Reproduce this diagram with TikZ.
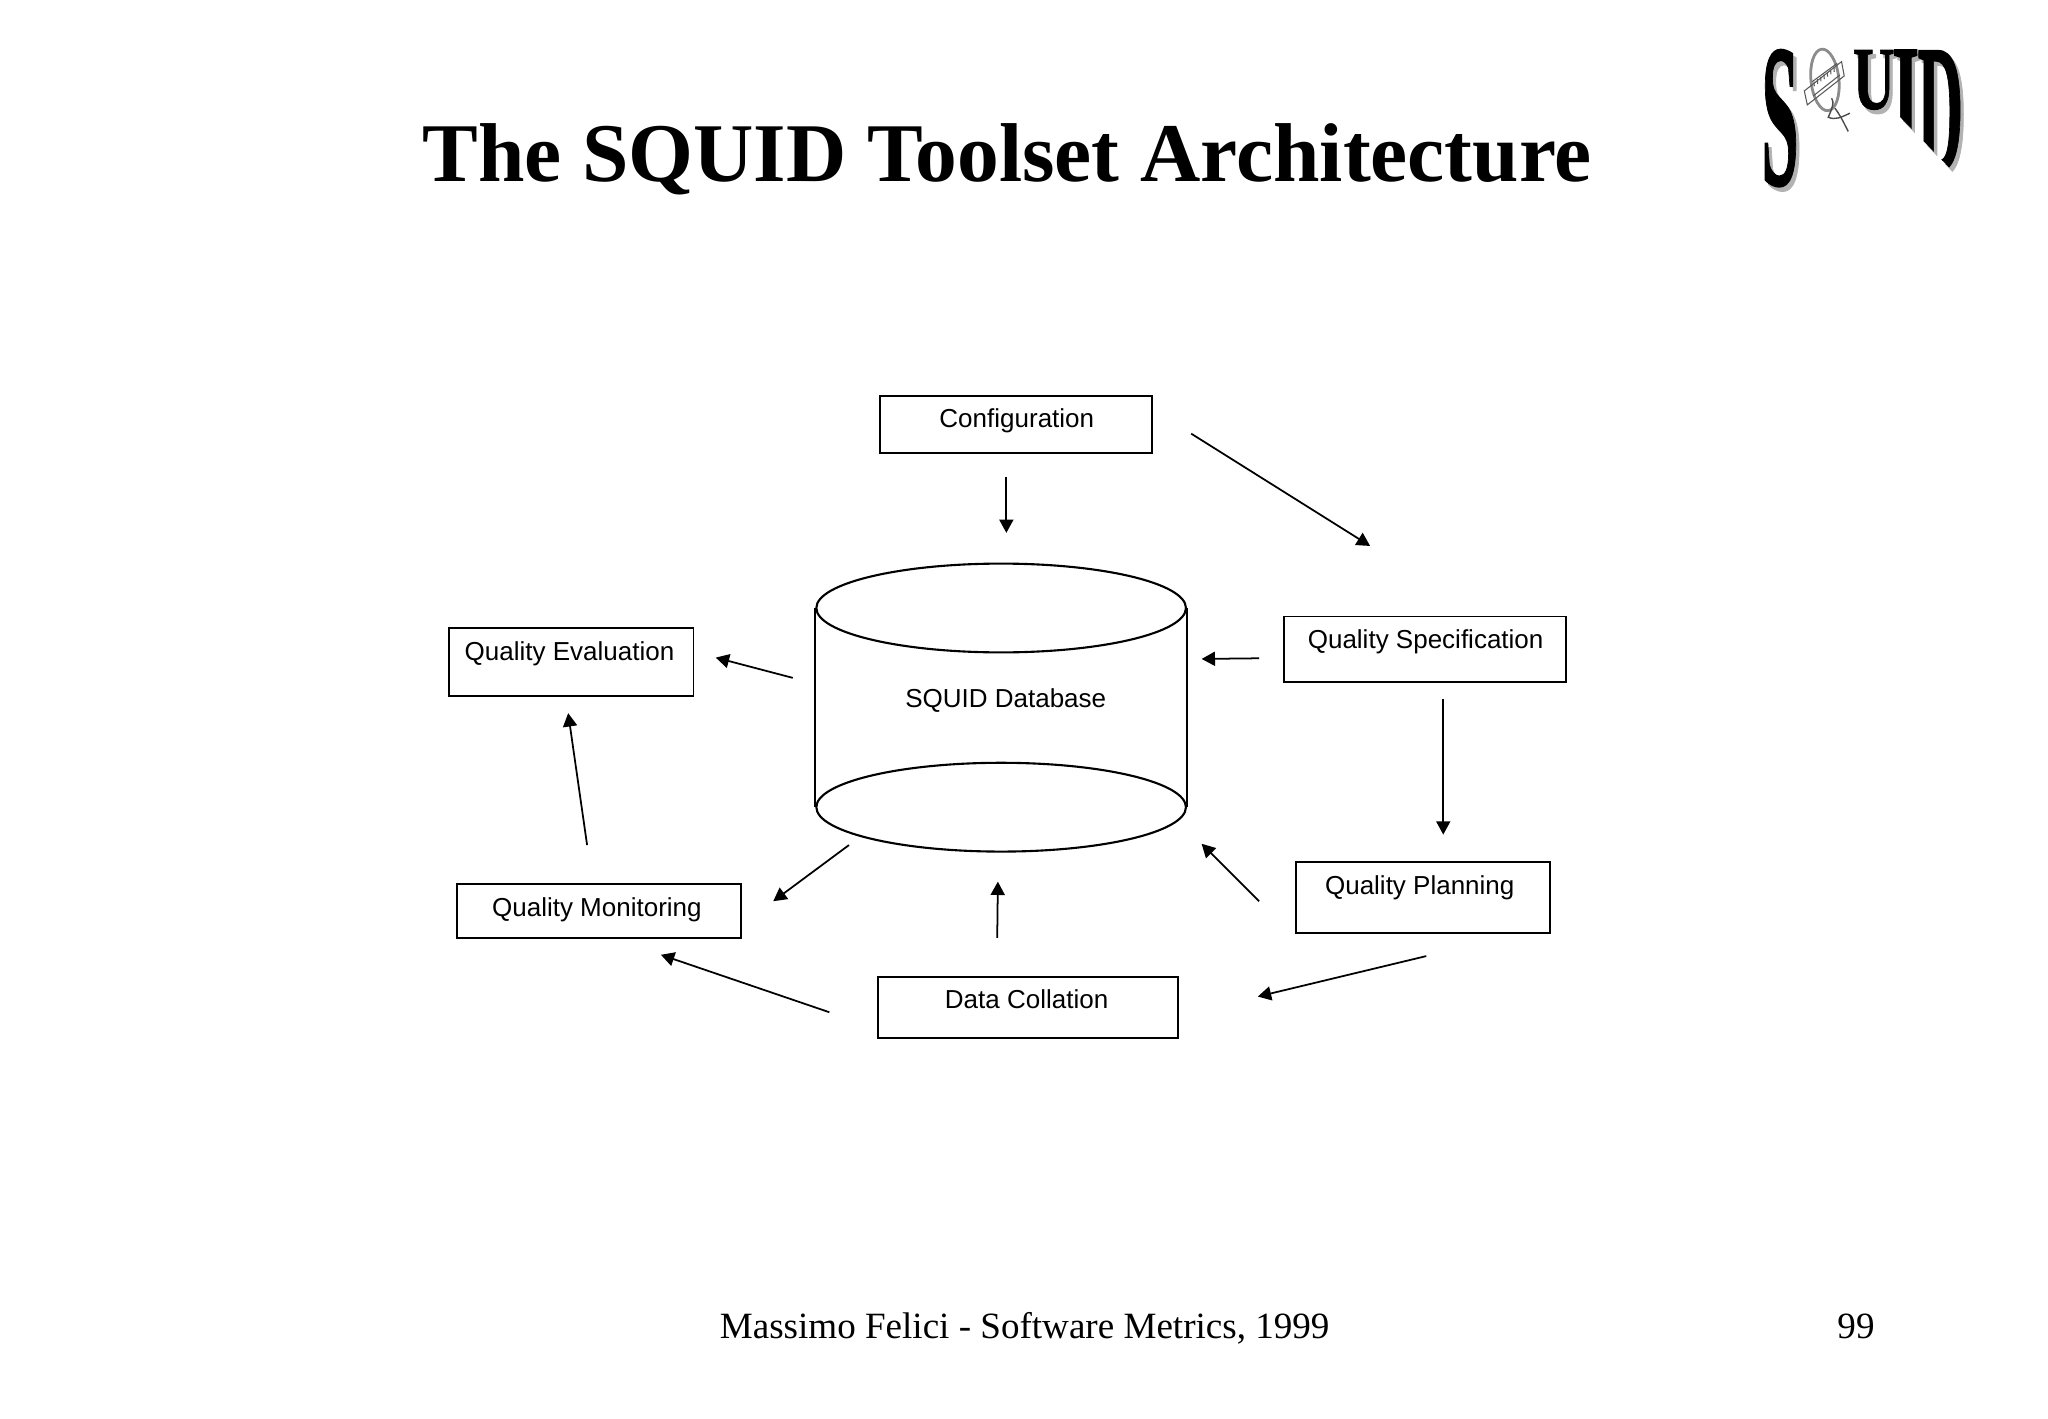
\documentclass[tikz,border=0pt]{standalone}
\usepackage{fontspec}
\setmainfont{Liberation Serif}
\newfontfamily\labelfont{Liberation Sans}
\newfontface\logofont{Liberation Serif Bold}[FakeBold=1]
\usetikzlibrary{arrows.meta,shapes.geometric}
\begin{document}
\begin{tikzpicture}[x=0.01306cm, y=-0.01306cm,
    box/.style={draw, line width=0.55pt, inner sep=0pt},
    boxlabel/.style={anchor=base, inner sep=0pt, font=\labelfont\fontsize{7.4}{9}\selectfont},
    disc/.style={draw, ellipse, line width=0.6pt, inner sep=0pt, minimum width=3.696cm, minimum height=0.888cm},
    flow/.style={line width=0.5pt, -{Triangle[length=3.8pt,width=4pt]}},
    logoletter/.style={inner sep=0pt, font=\logofont\fontsize{10}{10}\selectfont}
]
\useasboundingbox (0,0) rectangle (1568,1086);

% title and footer
\node[anchor=base, inner sep=0pt, font=\bfseries\fontsize{23.75}{28}\selectfont] (title) at (771,139) {The SQUID Toolset Architecture};
\node[anchor=base, inner sep=0pt, font=\fontsize{10.55}{13}\selectfont] (footer) at (784.5,1025) {Massimo Felici - Software Metrics, 1999};
\node[anchor=base, inner sep=0pt, font=\fontsize{10.55}{13}\selectfont] (pageno) at (1421,1025) {99};

% boxes
\node[box, minimum width=2.717cm, minimum height=0.575cm] (config) at (778,325) {};
\node[box, minimum width=2.821cm, minimum height=0.653cm] (spec) at (1091,497) {};
\node[box, minimum width=2.442cm, minimum height=0.679cm] (eval) at (437.5,507) {};
\node[box, minimum width=2.547cm, minimum height=0.705cm] (plan) at (1089.5,687) {};
\node[box, minimum width=2.834cm, minimum height=0.535cm] (monit) at (458.5,697.5) {};
\node[box, minimum width=3.004cm, minimum height=0.614cm] (data) at (787,771.5) {};

\node[boxlabel] (configtxt) at (778.5,327.5) {Configuration};
\node[boxlabel] (spectxt) at (1091.5,496.5) {Quality Specification};
\node[boxlabel] (evaltxt) at (436,505.5) {Quality Evaluation};
\node[boxlabel] (plantxt) at (1087,684.5) {Quality Planning};
\node[boxlabel] (monittxt) at (457,701.5) {Quality Monitoring};
\node[boxlabel] (datatxt) at (786,772.5) {Data Collation};

% database
\node[disc] (dbtop) at (766.5,465.5) {};
\node[disc] (dbbottom) at (766.5,618) {};
\draw[line width=0.6pt] (dbtop.west) -- (dbbottom.west);
\draw[line width=0.6pt] (dbtop.east) -- (dbbottom.east);
\node[boxlabel] (dbtxt) at (770,542) {SQUID Database};

% arrows
\coordinate (a1) at (770.5,365);  \coordinate (b1) at (770.5,408);
\coordinate (a2) at (912,332);    \coordinate (b2) at (1049,418);
\coordinate (a3) at (964,504);    \coordinate (b3) at (920,504.5);
\coordinate (a4) at (607,519);    \coordinate (b4) at (548,503.5);
\coordinate (a5) at (1105,535);   \coordinate (b5) at (1105,639);
\coordinate (a6) at (964,690);    \coordinate (b6) at (920,646);
\coordinate (a7) at (1092,732);   \coordinate (b7) at (963,763);
\coordinate (a8) at (763.5,718);  \coordinate (b8) at (764,675);
\coordinate (a9) at (635,775);    \coordinate (b9) at (506,731);
\coordinate (a10) at (650,647);   \coordinate (b10) at (592,690);
\coordinate (a11) at (449.5,647); \coordinate (b11) at (435,546);
\foreach \i in {1,...,11}
    \draw[flow] (a\i) -- (b\i);

% logo
\begin{scope}[shift={(1317,23)}, x=0.003333cm, y=-0.003333cm]
\foreach \off/\col in {10/black!30, 0/black} {
    \begin{scope}[shift={(\off,\off*1.3)}]
    \node[logoletter, text=\col, xscale=1.9, yscale=5.8] (letterS\off) at (180,265) {S};
    \node[logoletter, text=\col, xscale=1.65, yscale=2.55] (letterU\off) at (462,150) {U};
    \begin{scope}
    \clip (510,40) -- (750,40) -- (750,425) -- (695,420) -- (520,240) -- cycle;
    \node[logoletter, text=\col, xscale=2.0, yscale=4.2] (letterI\off) at (558,205) {I};
    \node[logoletter, text=\col, xscale=1.8, yscale=5.2] (letterD\off) at (662,243) {D};
    \end{scope}
    \end{scope}
}
\draw[black!45, line width=0.8pt, rotate around={6:(315,150)}] (315,150) ellipse (42 and 93);
\draw[black!65, line width=0.3pt] (253,183) -- (365,95) -- (373,138) -- (262,225) -- cycle;
\draw[black!65, line width=0.3pt] (277,155) -- (352,100);
\draw[black!65, line width=0.3pt] (280,198) -- (360,135);
\foreach \tx in {282,292,...,342}
    \draw[black!65, line width=0.3pt] (\tx,{155-(\tx-282)*0.72}) -- ++(1,14);
\draw[black!70, line width=0.4pt] (335,205) .. controls (345,215) and (335,240) .. (325,262)
    .. controls (345,272) and (365,262) .. (390,250);
\draw[black!70, line width=0.4pt] (345,235) .. controls (360,255) and (370,275) .. (385,305);
\end{scope}

\end{tikzpicture}
\end{document}
